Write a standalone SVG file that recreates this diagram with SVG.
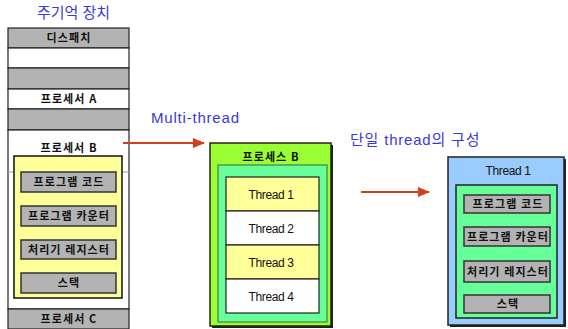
<svg xmlns="http://www.w3.org/2000/svg" width="568" height="329" viewBox="0 0 568 329">
  <defs>
    <marker id="arrowHead" viewBox="0 0 12 10" refX="11" refY="5" markerWidth="12" markerHeight="10" markerUnits="userSpaceOnUse" orient="auto">
      <path d="M0,0 L12,5 L0,10 Z" fill="#d0401a"/>
    </marker>
  </defs>
  <style>
    .title { font-family: "Liberation Sans", "Noto Sans CJK KR", sans-serif; font-size: 15px; fill: #3a3ad0; }
    .ko { font-family: "Noto Sans CJK KR", sans-serif; font-size: 11px; font-weight: bold; fill: #111; text-anchor: middle; letter-spacing: 1.1px; }
    .en { font-family: "Liberation Sans", sans-serif; font-size: 12px; fill: #111; text-anchor: middle; letter-spacing: -0.4px; }
    .row { stroke: #222; stroke-width: 1.2; }
    .grey { fill: #b3b3b3; }
    .white { fill: #ffffff; }
    .item { fill: #b3b3b3; stroke: #333; stroke-width: 1.5; }
    .edge { stroke: #d0401a; stroke-width: 2; fill: none; marker-end: url(#arrowHead); }
  </style>
  <rect width="568" height="329" fill="#ffffff"/>

  <!-- main memory column -->
  <text class="title" x="37" y="18" font-size="14">주기억 장치</text>
  <g id="memory">
    <rect class="row grey" x="8" y="28" width="121" height="20"/>
    <rect class="row white" x="8" y="48" width="121" height="20"/>
    <rect class="row grey" x="8" y="68" width="121" height="21"/>
    <rect class="row white" x="8" y="89" width="121" height="20"/>
    <rect class="row grey" x="8" y="109" width="121" height="21"/>
    <rect class="row white" x="8" y="130" width="121" height="179"/>
    <line x1="8" y1="172" x2="129" y2="172" stroke="#999" stroke-width="1"/>
    <rect class="row grey" x="8" y="309" width="121" height="20"/>
    <text class="ko" x="69" y="42">디스패치</text>
    <text class="ko" x="69" y="103">프로세서 A</text>
    <text class="ko" x="69" y="152">프로세서 B</text>
    <text class="ko" x="69" y="323">프로세서 C</text>
  </g>

  <!-- process B context -->
  <g id="processB-context">
    <rect x="14" y="156" width="108" height="142" fill="#ffff99" stroke="#111" stroke-width="1.5"/>
    <rect class="item" x="21" y="172" width="95" height="20"/>
    <text class="ko" x="69" y="186">프로그램 코드</text>
    <rect class="item" x="21" y="206" width="95" height="20"/>
    <text class="ko" x="69" y="220">프로그램 카운터</text>
    <rect class="item" x="21" y="240" width="95" height="19"/>
    <text class="ko" x="69" y="254">처리기 레지스터</text>
    <rect class="item" x="21" y="273" width="95" height="20"/>
    <text class="ko" x="69" y="287">스택</text>
  </g>

  <text class="title" x="151" y="123" font-size="16" letter-spacing="0.8">Multi-thread</text>
  <text class="title" x="350" y="145" font-size="16" letter-spacing="0.8">단일 thread의 구성</text>

  <!-- multi-threaded process B -->
  <g id="processB">
    <rect x="212" y="145" width="121" height="183" fill="#222"/>
    <rect x="210" y="143" width="121" height="183" fill="#99ff33" stroke="#222" stroke-width="1.5"/>
    <text class="ko" x="271" y="161">프로세스 B</text>
    <rect x="218" y="165" width="109" height="157" fill="#66ff99" stroke="#4a7a4a" stroke-width="1.2"/>
    <rect x="226" y="177" width="93" height="34" fill="#ffff99" stroke="#222" stroke-width="1.2"/>
    <rect x="226" y="211" width="93" height="34" fill="#ffffff" stroke="#222" stroke-width="1.2"/>
    <rect x="226" y="245" width="93" height="34" fill="#ffff99" stroke="#222" stroke-width="1.2"/>
    <rect x="226" y="279" width="93" height="34" fill="#ffffff" stroke="#222" stroke-width="1.2"/>
    <text class="en" x="271" y="199">Thread 1</text>
    <text class="en" x="271" y="233">Thread 2</text>
    <text class="en" x="271" y="267">Thread 3</text>
    <text class="en" x="271" y="301">Thread 4</text>
  </g>

  <!-- single thread -->
  <g id="thread1">
    <rect x="450" y="159" width="116" height="168" fill="#222"/>
    <rect x="448" y="157" width="116" height="168" fill="#99ccff" stroke="#222" stroke-width="1.5"/>
    <text class="en" x="508" y="175">Thread 1</text>
    <rect x="456" y="185" width="101" height="133" fill="#66ff99" stroke="#222" stroke-width="1.5"/>
    <rect class="item" x="464" y="195" width="86" height="18"/>
    <text class="ko" x="508" y="208">프로그램 코드</text>
    <rect class="item" x="464" y="227" width="86" height="19"/>
    <text class="ko" x="508" y="241">프로그램 카운터</text>
    <rect class="item" x="464" y="261" width="86" height="21"/>
    <text class="ko" x="508" y="276">처리기 레지스터</text>
    <rect class="item" x="464" y="295" width="86" height="18"/>
    <text class="ko" x="508" y="308">스택</text>
  </g>

  <g id="connectors">
    <line class="edge" x1="123" y1="143" x2="204" y2="143"/>
    <line class="edge" x1="361" y1="192" x2="429" y2="192"/>
  </g>
</svg>
